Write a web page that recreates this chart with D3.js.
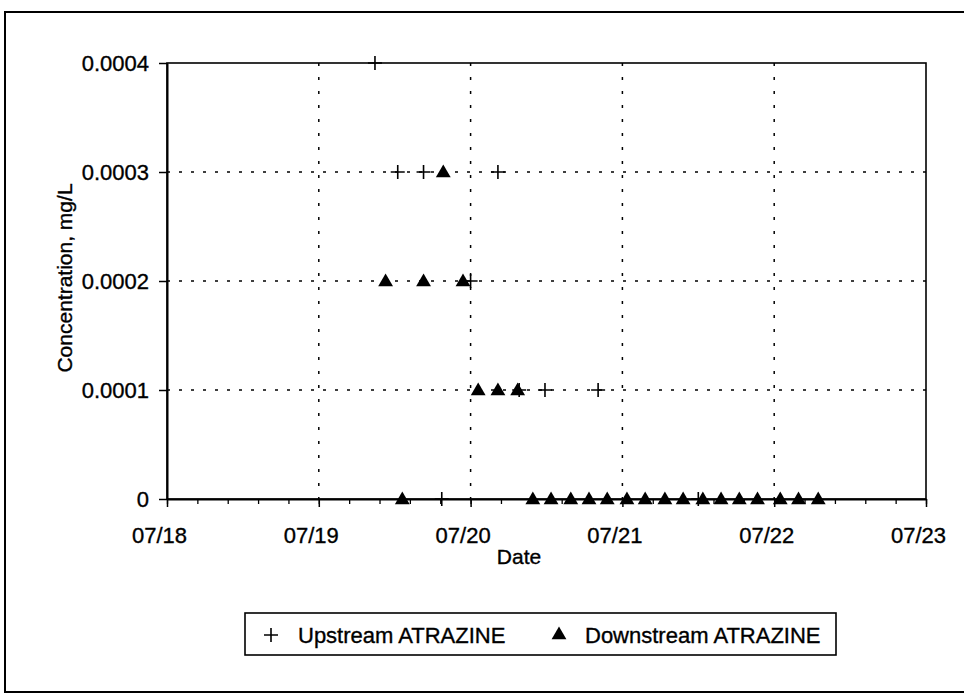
<!DOCTYPE html>
<html>
<head>
<meta charset="utf-8">
<script src="https://cdn.jsdelivr.net/npm/d3@7"></script>
<style>
body { margin: 0; background: #fff; }
text { font-family: "Liberation Sans", Arial, sans-serif; fill: #000; stroke: #000; stroke-width: 0.35px; }
</style>
</head>
<body>
<svg id="chart" width="964" height="698"></svg>
<script>
// day of July (fractional) and concentration in mg/L
var upstreamDays = [19.37, 19.52, 19.69, 19.81, 20.00, 20.18, 20.32, 20.49, 20.84, 21.50];
var upstreamConc = [0.0004, 0.0003, 0.0003, 0, 0.0002, 0.0003, 0.0001, 0.0001, 0.0001, 0];

var downstreamDays = [19.44, 19.55, 19.69, 19.82, 19.95, 20.05, 20.18, 20.31, 20.41, 20.53,
	20.66, 20.78, 20.90, 21.03, 21.15, 21.28, 21.40, 21.53, 21.65, 21.77, 21.89, 22.04, 22.16, 22.29];
var downstreamConc = [0.0002, 0, 0.0002, 0.0003, 0.0002, 0.0001, 0.0001, 0.0001, 0, 0,
	0, 0, 0, 0, 0, 0, 0, 0, 0, 0, 0, 0, 0, 0];

var xTickDays = [18, 19, 20, 21, 22, 23];
var xTickLabels = ["07/18", "07/19", "07/20", "07/21", "07/22", "07/23"];
var yTickValues = [0, 0.0001, 0.0002, 0.0003, 0.0004];
var yTickLabels = ["0", "0.0001", "0.0002", "0.0003", "0.0004"];

var svg = d3.select("#chart");

var Left = 167, Right = 926, Top = 63, Bottom = 499;

var x = d3.scaleLinear().domain([18, 23]).range([Left, Right]);
var y = d3.scaleLinear().domain([0, 0.0004]).range([Bottom, Top]);

// outer frame
svg.append("rect")
	.attr("x", 5).attr("y", 12)
	.attr("width", 975).attr("height", 680)
	.attr("fill", "none").attr("stroke", "#000").attr("stroke-width", 2);

// grid
svg.append("g").selectAll("line")
	.data(yTickValues.slice(1, 4))
	.enter().append("line")
	.attr("x1", Left).attr("x2", Right)
	.attr("y1", function(d) { return y(d); })
	.attr("y2", function(d) { return y(d); })
	.attr("stroke", "#000").attr("stroke-width", 1.5)
	.attr("stroke-dasharray", "3,9");

svg.append("g").selectAll("line")
	.data(xTickDays.slice(1, 5))
	.enter().append("line")
	.attr("x1", function(d) { return x(d); })
	.attr("x2", function(d) { return x(d); })
	.attr("y1", Top).attr("y2", Bottom)
	.attr("stroke", "#000").attr("stroke-width", 1.5)
	.attr("stroke-dasharray", "3,11");

// plot frame
svg.append("rect")
	.attr("x", Left).attr("y", Top)
	.attr("width", Right - Left).attr("height", Bottom - Top)
	.attr("fill", "none").attr("stroke", "#000").attr("stroke-width", 1.6);

// minor ticks on the date axis
svg.append("g")
	.attr("transform", "translate(0," + Bottom + ")")
	.call(d3.axisBottom(x).tickValues(d3.range(18, 23.01, 0.2)).tickSize(5).tickSizeOuter(0).tickFormat(""))
	.call(function(g) { g.select(".domain").remove(); })
	.selectAll("line").attr("stroke-width", 1.3);

var xAxis = svg.append("g")
	.attr("transform", "translate(0," + Bottom + ")")
	.call(d3.axisBottom(x)
		.tickValues(xTickDays)
		.tickSize(8).tickSizeOuter(0).tickPadding(20)
		.tickFormat(function(d, i) { return xTickLabels[i]; }));
xAxis.select(".domain").attr("stroke-width", 2);
xAxis.selectAll("line").attr("stroke-width", 1.5);
xAxis.selectAll("text")
	.attr("dx", -8)
	.style("font-size", "22px");

var yAxis = svg.append("g")
	.attr("transform", "translate(" + Left + ",0)")
	.call(d3.axisLeft(y)
		.tickValues(yTickValues)
		.tickSize(8).tickSizeOuter(0).tickPadding(10)
		.tickFormat(function(d, i) { return yTickLabels[i]; }));
yAxis.select(".domain").attr("stroke-width", 2);
yAxis.selectAll("line").attr("stroke-width", 1.5);
yAxis.selectAll("text").style("font-size", "22px");

// axis titles
svg.append("text")
	.attr("x", 519).attr("y", 564)
	.attr("text-anchor", "middle")
	.style("font-size", "21px")
	.text("Date");

svg.append("text")
	.attr("transform", "translate(72,278) rotate(-90)")
	.attr("text-anchor", "middle")
	.style("font-size", "21px")
	.text("Concentration, mg/L");

var plusPath = "M-7,0H7M0,-7V7";
var triangle = d3.symbol().type(d3.symbolTriangle).size(95);

// downstream series
svg.append("g").selectAll("path")
	.data(downstreamDays)
	.enter().append("path")
	.attr("d", triangle)
	.attr("transform", function(d, i) { return "translate(" + x(d) + "," + (y(downstreamConc[i]) + 1) + ")"; })
	.attr("fill", "#000");

// upstream series
svg.append("g").selectAll("path")
	.data(upstreamDays)
	.enter().append("path")
	.attr("d", plusPath)
	.attr("transform", function(d, i) { return "translate(" + x(d) + "," + y(upstreamConc[i]) + ")"; })
	.attr("fill", "none").attr("stroke", "#000").attr("stroke-width", 1.6);

// legend
var legend = svg.append("g");
legend.append("rect")
	.attr("x", 245).attr("y", 613)
	.attr("width", 591).attr("height", 42)
	.attr("fill", "#fff").attr("stroke", "#000").attr("stroke-width", 1.6);
legend.append("path")
	.attr("d", plusPath)
	.attr("transform", "translate(271,635)")
	.attr("fill", "none").attr("stroke", "#000").attr("stroke-width", 1.6);
legend.append("text")
	.attr("x", 298).attr("y", 643)
	.style("font-size", "22px")
	.text("Upstream ATRAZINE");
legend.append("path")
	.attr("d", triangle)
	.attr("transform", "translate(559,635)")
	.attr("fill", "#000");
legend.append("text")
	.attr("x", 585).attr("y", 643)
	.style("font-size", "22px")
	.text("Downstream ATRAZINE");
</script>
</body>
</html>
